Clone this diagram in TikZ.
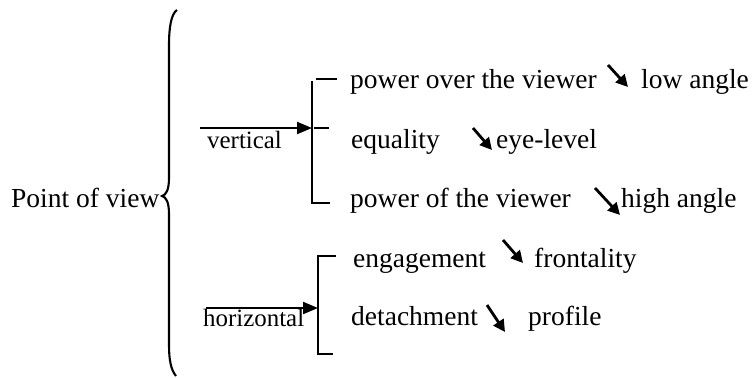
\documentclass[tikz,border=0pt]{standalone}
\usepackage{fontspec}
\setmainfont{Liberation Serif}
\usetikzlibrary{arrows.meta}
\tikzset{
  txt/.style={inner sep=0pt, anchor=base west, font=\fontsize{27.6}{30}\selectfont},
  lbl/.style={inner sep=0pt, anchor=base west, font=\fontsize{25}{28}\selectfont},
  ln/.style={line width=2.1bp, line cap=butt},
  mainarrow/.style={line width=2.1bp, -{Triangle[length=15bp,width=12bp]}},
  diag/.style={line width=2.8bp, -{Triangle[length=12bp,width=12bp]}},
}
\begin{document}
\begin{tikzpicture}[x=1bp,y=-1bp]
\useasboundingbox (0,0) rectangle (752,377);
% left title
\node[txt] (pov) at (11,207) {Point of view};
% big brace
\coordinate (btop) at (177,10);
\coordinate (btip) at (162,196);
\coordinate (bbot) at (176,376);
\draw[ln] (btop) .. controls (171,14) and (169,28) .. (169,45)
  -- (169,178) .. controls (169,190) and (166,195) .. (btip)
  .. controls (166,197) and (169,202) .. (169,214)
  -- (169,345) .. controls (169,360) and (171,370) .. (bbot);
% vertical group
\coordinate (va) at (200,128);
\coordinate (vt) at (312,81);
\coordinate (vm) at (312,128);
\coordinate (vb) at (312,203);
\draw[mainarrow] (va) -- (vm);
\node[lbl] (vlab) at (207,148) {vertical};
\draw[ln] (vt) -- (vb) -- (330,203);
\draw[ln] (316,79) -- (337,79);
\draw[ln] (314,128) -- (329,128);
% horizontal group
\coordinate (ha) at (206,308);
\coordinate (hm) at (318,308);
\draw[mainarrow] (ha) -- (hm);
\node[lbl] (hlab) at (203,326) {horizontal};
\draw[ln] (336,256) -- (318,256) -- (318,354) -- (333,354);
% rows
\node[txt] (r1a) at (350,88) {power over the viewer};
\node[txt] (r1b) at (641,88) {low angle};
\node[txt] (r2a) at (351,148) {equality};
\node[txt] (r2b) at (496,148) {eye-level};
\node[txt] (r3a) at (350,207) {power of the viewer};
\node[txt] (r3b) at (621,207) {high angle};
\node[txt] (r4a) at (353,267) {engagement};
\node[txt] (r4b) at (534,267) {frontality};
\node[txt] (r5a) at (351,325) {detachment};
\node[txt] (r5b) at (528,325) {profile};
% diagonal arrows
\coordinate (d1s) at (608,65); \coordinate (d1e) at (628,87);
\coordinate (d2s) at (473,128); \coordinate (d2e) at (492,150);
\coordinate (d3s) at (595,188); \coordinate (d3e) at (620,215);
\coordinate (d4s) at (503,240); \coordinate (d4e) at (523,263);
\coordinate (d5s) at (487,305); \coordinate (d5e) at (505,332);
\draw[diag] (d1s) -- (d1e);
\draw[diag] (d2s) -- (d2e);
\draw[diag] (d3s) -- (d3e);
\draw[diag] (d4s) -- (d4e);
\draw[diag] (d5s) -- (d5e);
\end{tikzpicture}
\end{document}
